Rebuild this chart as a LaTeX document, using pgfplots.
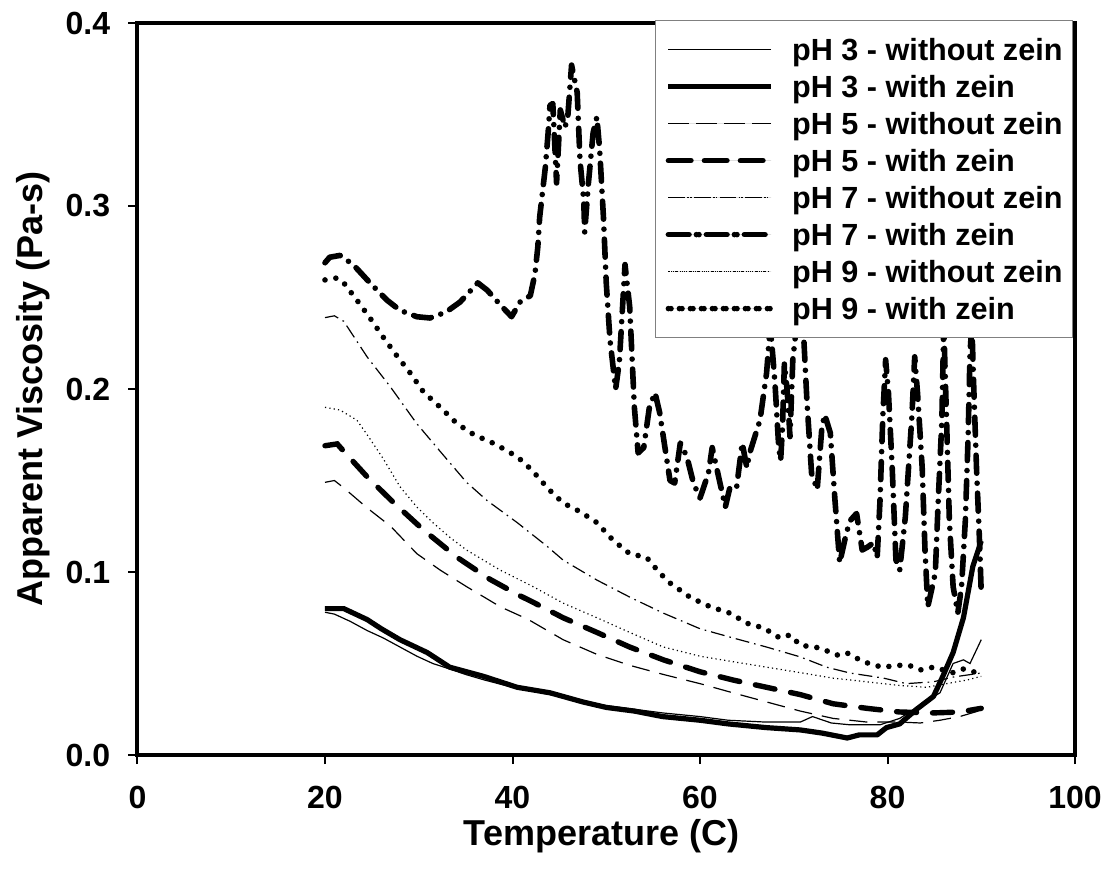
\documentclass[border=0pt]{standalone}
\usepackage{fontspec}
\setmainfont{Liberation Sans}
\usepackage{pgfplots}
\pgfplotsset{compat=1.18}
\usetikzlibrary{shadows}

\begin{document}
\begin{tikzpicture}
\begin{axis}[
  scale only axis,
  width=468.75pt, height=366pt,
  xmin=0, xmax=100, ymin=0, ymax=0.4,
  xtick={0,20,40,60,80,100},
  xticklabels={0,20,40,60,80,100},
  ytick={0,0.1,0.2,0.3,0.4},
  yticklabels={0.0,0.1,0.2,0.3,0.4},
  /pgf/number format/assume math mode=true,
  tick align=outside,
  xtick pos=bottom, ytick pos=left,
  major tick length=4.5pt,
  tick style={line width=1pt, black},
  axis line style={line width=2pt, line cap=rect},
  ticklabel style={font=\bfseries\fontsize{16}{16}\selectfont},
  yticklabel style={anchor=east, inner sep=0pt, xshift=-9pt},
  xticklabel style={anchor=north, inner sep=0pt, yshift=-11pt},
  xlabel={Temperature (C)},
  ylabel={Apparent Viscosity (Pa-s)},
  label style={font=\bfseries\fontsize{18}{18}\selectfont},
  xlabel style={at={(axis description cs:0.495,-0.123)}, anchor=base},
  ylabel style={at={(axis description cs:-0.1008,0.5)}, anchor=base},
  no markers,
  legend cell align=left,
  legend image code/.code={\draw[#1] (0pt,0pt) -- (50pt,0pt);},
  legend style={
    at={(axis description cs:0.552,1.0041)}, anchor=north west,
    draw=gray, line width=0.6pt, fill=white,
    inner xsep=5pt, inner ysep=7pt,
    row sep=3.5pt, column sep=10.5pt,
    font=\bfseries\fontsize{15.3}{15.3}\selectfont,
    nodes={inner sep=0pt, text height=13.1pt, text depth=1.9pt, anchor=west},
    general shadow={fill=black, shadow xshift=1.3pt, shadow yshift=0pt},
  },
]

% pH 3, no zein
\addplot[black, line width=0.6pt] coordinates {
(20,0.078) (21,0.077) (22.7,0.073) (24.5,0.068) (26.2,0.064) (28,0.059)
(29.8,0.054) (31.5,0.050) (33.3,0.047) (35,0.044) (37,0.041) (40,0.037)
(42,0.035) (44,0.033) (47,0.030) (50,0.027) (53,0.025) (56,0.023)
(60,0.021) (63,0.019) (67,0.018) (70.7,0.018) (72,0.021) (74,0.0175)
(76,0.0165) (79.2,0.0165) (81.3,0.020) (83.1,0.026) (85.6,0.034)
(87,0.050) (88.1,0.052) (88.8,0.050) (90,0.063)};
\addlegendentry{pH 3 - without zein}

% pH 3, zein
\addplot[black, line width=2.6pt, line join=round] coordinates {
(20,0.080) (22,0.080) (24.5,0.074) (26,0.069) (28,0.063) (30.9,0.056)
(33.3,0.048) (36.9,0.043) (40.5,0.037) (44,0.034) (47.5,0.029) (50,0.026)
(53,0.024) (56,0.021) (60,0.019) (63,0.017) (67,0.015) (70.7,0.0137)
(73,0.012) (75.7,0.0093) (77,0.011) (78.9,0.011) (79.9,0.015) (81.3,0.017)
(83.1,0.025) (84.9,0.032) (85.9,0.043) (87,0.056) (88.1,0.075)
(89.1,0.103) (90,0.117)};
\addlegendentry{pH 3 - with zein}

% pH 5, no zein
\addplot[black, line width=0.6pt, dash pattern=on 9pt off 5pt] coordinates {
(20,0.149) (21,0.150) (22,0.146) (24.5,0.135) (27,0.125) (29.8,0.110)
(32.3,0.101) (35.1,0.092) (38.7,0.081) (41.7,0.074) (45.4,0.063)
(49,0.055) (52.5,0.049) (56.1,0.044) (60,0.039) (63.5,0.034) (67.1,0.029)
(70.7,0.024) (74.2,0.020) (77.8,0.018) (81.3,0.018) (83.5,0.0175)
(85.6,0.019) (87.7,0.021) (90,0.0245)};
\addlegendentry{pH 5 - without zein}

% pH 5, zein
\addplot[black, line width=2.7pt, line cap=round, dash pattern=on 10pt off 8pt] coordinates {
(20,0.169) (21.3,0.170) (22,0.166) (24.5,0.152) (27.3,0.138) (30.5,0.123)
(34.1,0.108) (37.6,0.096) (40.8,0.087) (42,0.084) (45.4,0.075) (49,0.067)
(52.5,0.059) (56.1,0.052) (60,0.0455) (63.5,0.041) (67.1,0.037)
(70.7,0.033) (74.2,0.028) (77.8,0.0255) (81.3,0.0235) (84.9,0.023)
(87.7,0.0235) (90,0.0255)};
\addlegendentry{pH 5 - with zein}

% pH 7, no zein
\addplot[black, line width=0.6pt, dash pattern=on 7pt off 2.5pt on 0.8pt off 2.5pt] coordinates {
(20,0.239) (21,0.240) (22,0.237) (24.5,0.2175) (27,0.201) (29.8,0.181)
(32.6,0.164) (35.1,0.149) (37.3,0.139) (40.5,0.127) (43.7,0.114)
(45.4,0.1065) (49,0.0956) (52.5,0.0863) (56.1,0.0775) (60,0.069)
(63.5,0.064) (67.1,0.059) (70.7,0.0536) (73.5,0.048) (76,0.0448)
(79.6,0.042) (82,0.039) (84.9,0.040) (87,0.0426) (90,0.0448)};
\addlegendentry{pH 7 - without zein}

% pH 7, zein
\addplot[black, line width=2.8pt, line cap=round, line join=round,
  dash pattern=on 9pt off 5pt on 0pt off 5pt] coordinates {
(20,0.269) (20.5,0.272) (21.6,0.273) (23,0.268) (24.8,0.258) (26.6,0.2486)
(28,0.243) (29.8,0.2395) (31.2,0.2388) (32.9,0.242) (34.4,0.2475)
(36.3,0.258) (37.3,0.254) (38.7,0.246) (39.9,0.2395) (40.8,0.2475)
(41.9,0.251) (42.4,0.263) (42.7,0.2776) (42.9,0.294) (43.5,0.321)
(43.8,0.340) (44.0,0.355) (44.3,0.356) (44.7,0.3126) (45.1,0.3525)
(45.6,0.343) (45.9,0.349) (46.3,0.377) (46.9,0.362) (47.2,0.325)
(47.6,0.303) (47.7,0.2858) (48.1,0.3126) (48.6,0.340) (49.0,0.3486)
(49.3,0.3306) (49.7,0.294) (50.0,0.258) (50.4,0.2268) (51.0,0.200)
(51.4,0.215) (52.0,0.268) (52.5,0.245) (53.0,0.19) (53.4,0.165)
(54.0,0.168) (54.6,0.19) (55.2,0.198) (55.7,0.187) (56.3,0.1667)
(56.8,0.150) (57.3,0.1486) (57.9,0.1705) (58.6,0.163) (59.3,0.1486)
(60.0,0.1404) (60.9,0.154) (61.3,0.168) (61.9,0.154) (62.7,0.1355)
(63.2,0.1464) (63.9,0.146) (64.5,0.1705) (65.0,0.157) (65.3,0.165)
(66.4,0.183) (67.1,0.2087) (67.5,0.235) (68.0,0.203) (68.4,0.168)
(68.6,0.161) (68.8,0.179) (69.0,0.214) (69.3,0.199) (69.6,0.174)
(69.9,0.216) (70.3,0.235) (71.0,0.235) (71.4,0.194) (71.9,0.154)
(72.5,0.145) (73.0,0.179) (73.3,0.186) (73.9,0.176) (74.4,0.139)
(74.9,0.105) (75.6,0.121) (76.0,0.128) (76.7,0.132) (77.3,0.112)
(77.9,0.1137) (78.5,0.116) (78.9,0.108) (79.2,0.139) (79.5,0.185)
(79.8,0.216) (80.1,0.198) (80.5,0.157) (80.9,0.1066) (81.3,0.101)
(81.9,0.130) (82.6,0.185) (82.9,0.2176) (83.2,0.198) (83.7,0.157)
(84.0,0.112) (84.3,0.081) (85.1,0.0995) (85.4,0.1377) (85.8,0.183)
(86.0,0.235) (86.3,0.183) (86.6,0.128) (87.0,0.092) (87.5,0.0776)
(87.9,0.092) (88.3,0.128) (88.6,0.174) (88.8,0.2196) (89.0,0.235)
(89.2,0.201) (89.5,0.156) (89.8,0.119) (90.0,0.0885)};
\addlegendentry{pH 7 - with zein}

% pH 9, no zein
\addplot[black, line width=0.6pt, dash pattern=on 0.6pt off 1.6pt] coordinates {
(20,0.190) (21.6,0.1885) (23.4,0.183) (24.5,0.175) (26.2,0.162)
(28,0.1466) (29.8,0.1355) (31.5,0.127) (33.3,0.119) (35.1,0.112)
(38.7,0.101) (42.2,0.092) (45.4,0.083) (49,0.075) (52.5,0.067)
(56.1,0.059) (60,0.054) (63.5,0.051) (67.1,0.048) (70.7,0.045)
(74.2,0.042) (77.8,0.040) (81.3,0.038) (84.2,0.037) (86.3,0.039)
(88.5,0.041) (90,0.043)};
\addlegendentry{pH 9 - without zein}

% pH 9, zein
\addplot[black, line width=2.8pt, line cap=round, dash pattern=on 0pt off 5.5pt] coordinates {
(20,0.2596) (21.3,0.2607) (22,0.258) (23.4,0.2486) (24.8,0.2388)
(26.2,0.2284) (27.6,0.2186) (29.1,0.2087) (30.5,0.1984) (32.3,0.190)
(34.1,0.181) (35.9,0.175) (37.9,0.1705) (38.7,0.1683) (40.5,0.163)
(41.5,0.1585) (42.9,0.151) (43.7,0.146) (45.4,0.1377) (47.2,0.133)
(49,0.127) (50.7,0.1175) (52.5,0.110) (54.3,0.108) (55.7,0.0995)
(56.8,0.094) (59,0.086) (61.1,0.081) (63.2,0.0775) (65,0.072)
(66.8,0.0694) (68.5,0.064) (69.6,0.0656) (70.7,0.060) (72.8,0.0585)
(74.6,0.0546) (75.6,0.056) (77.4,0.051) (79.4,0.048) (81.3,0.049)
(82.3,0.049) (83.5,0.0465) (84.9,0.048) (87,0.045) (88.1,0.047)
(89.5,0.045)};
\addlegendentry{pH 9 - with zein}

\end{axis}
\pgfresetboundingbox
\path[use as bounding box] (-68.75pt,-60pt) rectangle (485.75pt,377.5pt);
\end{tikzpicture}
\end{document}
